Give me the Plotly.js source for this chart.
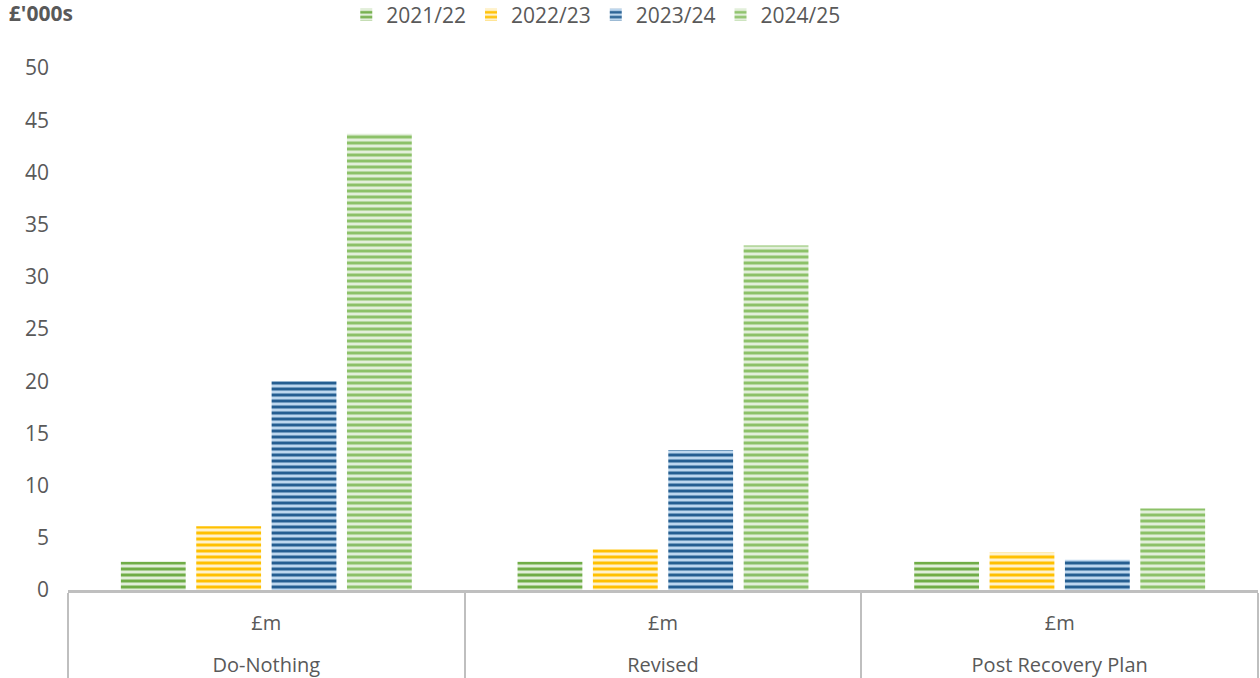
<!DOCTYPE html>
<html>
<head>
<meta charset="utf-8">
<script src="https://cdn.plot.ly/plotly-3.0.1.min.js"></script>
<style>html,body{margin:0;padding:0;background:#fff;}#chart{width:1260px;height:678px;}</style>
</head>
<body>
<div id="chart"></div>
<script>
const groups = ["Do-Nothing", "Revised", "Post Recovery Plan"];
const unitLabel = ["£m", "£m", "£m"];
const seriesNames = ["2021/22", "2022/23", "2023/24", "2024/25"];
const v2021 = [2.7, 2.7, 2.7];
const v2022 = [6.1, 3.9, 3.6];
const v2023 = [20.0, 13.4, 2.9];
const v2024 = [43.7, 33.0, 7.8];
const seriesValues = [v2021, v2022, v2023, v2024];
const fgColors = ["#70AD47", "#FFC000", "#255E91", "#8CC168"];
const bgColors = ["#E2EFDA", "#FFF2CC", "#BDD7EE", "#E2EFDA"];

// leading line break drops the outer category label lower, like the reference
const outerLabels = groups.map(g => "<br>" + g);

const traces = seriesNames.map((name, i) => ({
  type: "bar",
  name: name,
  x: [outerLabels, unitLabel],
  y: seriesValues[i],
  marker: {
    color: fgColors[i],
    line: {width: 0},
    pattern: {shape: "-", fillmode: "replace", fgcolor: fgColors[i], bgcolor: bgColors[i], size: 6, solidity: 0.5}
  },
  hoverinfo: "y+name"
}));

const font = {family: "Open Sans, sans-serif", size: 21, color: "#595959"};
const xfont = {family: "Open Sans, sans-serif", size: 20, color: "#595959"};
const layout = {
  width: 1260, height: 678,
  margin: {l: 68, r: 2, t: 68, b: 88, autoexpand: false},
  paper_bgcolor: "#ffffff",
  plot_bgcolor: "#ffffff",
  font: font,
  barmode: "group",
  bargap: 0.24,
  bargroupgap: 0.14,
  title: {text: "<b>£'000s</b>", x: 0.007, xanchor: "left", xref: "container", y: 0.99, yanchor: "top", yref: "container", font: {family: "Open Sans, sans-serif", size: 21, color: "#595959"}},
  showlegend: true,
  legend: {orientation: "h", x: 0.4435, xanchor: "center", xref: "paper", y: 1.1015, yref: "paper", yanchor: "middle", font: font, itemwidth: 30, traceorder: "normal"},
  xaxis: {
    type: "multicategory",
    showline: true, linecolor: "#bfbfbf", linewidth: 3,
    showdividers: true, dividercolor: "#bfbfbf", dividerwidth: 2,
    tickfont: xfont, ticks: "", showgrid: false, zeroline: false,
    ticklabelstandoff: 13
  },
  yaxis: {
    range: [0, 50], dtick: 5, tick0: 0,
    showgrid: false, zeroline: false, showline: false,
    ticks: "", tickfont: font, ticklabelstandoff: 18
  }
};
Plotly.newPlot("chart", traces, layout, {displayModeBar: false, staticPlot: true});
</script>
</body>
</html>
